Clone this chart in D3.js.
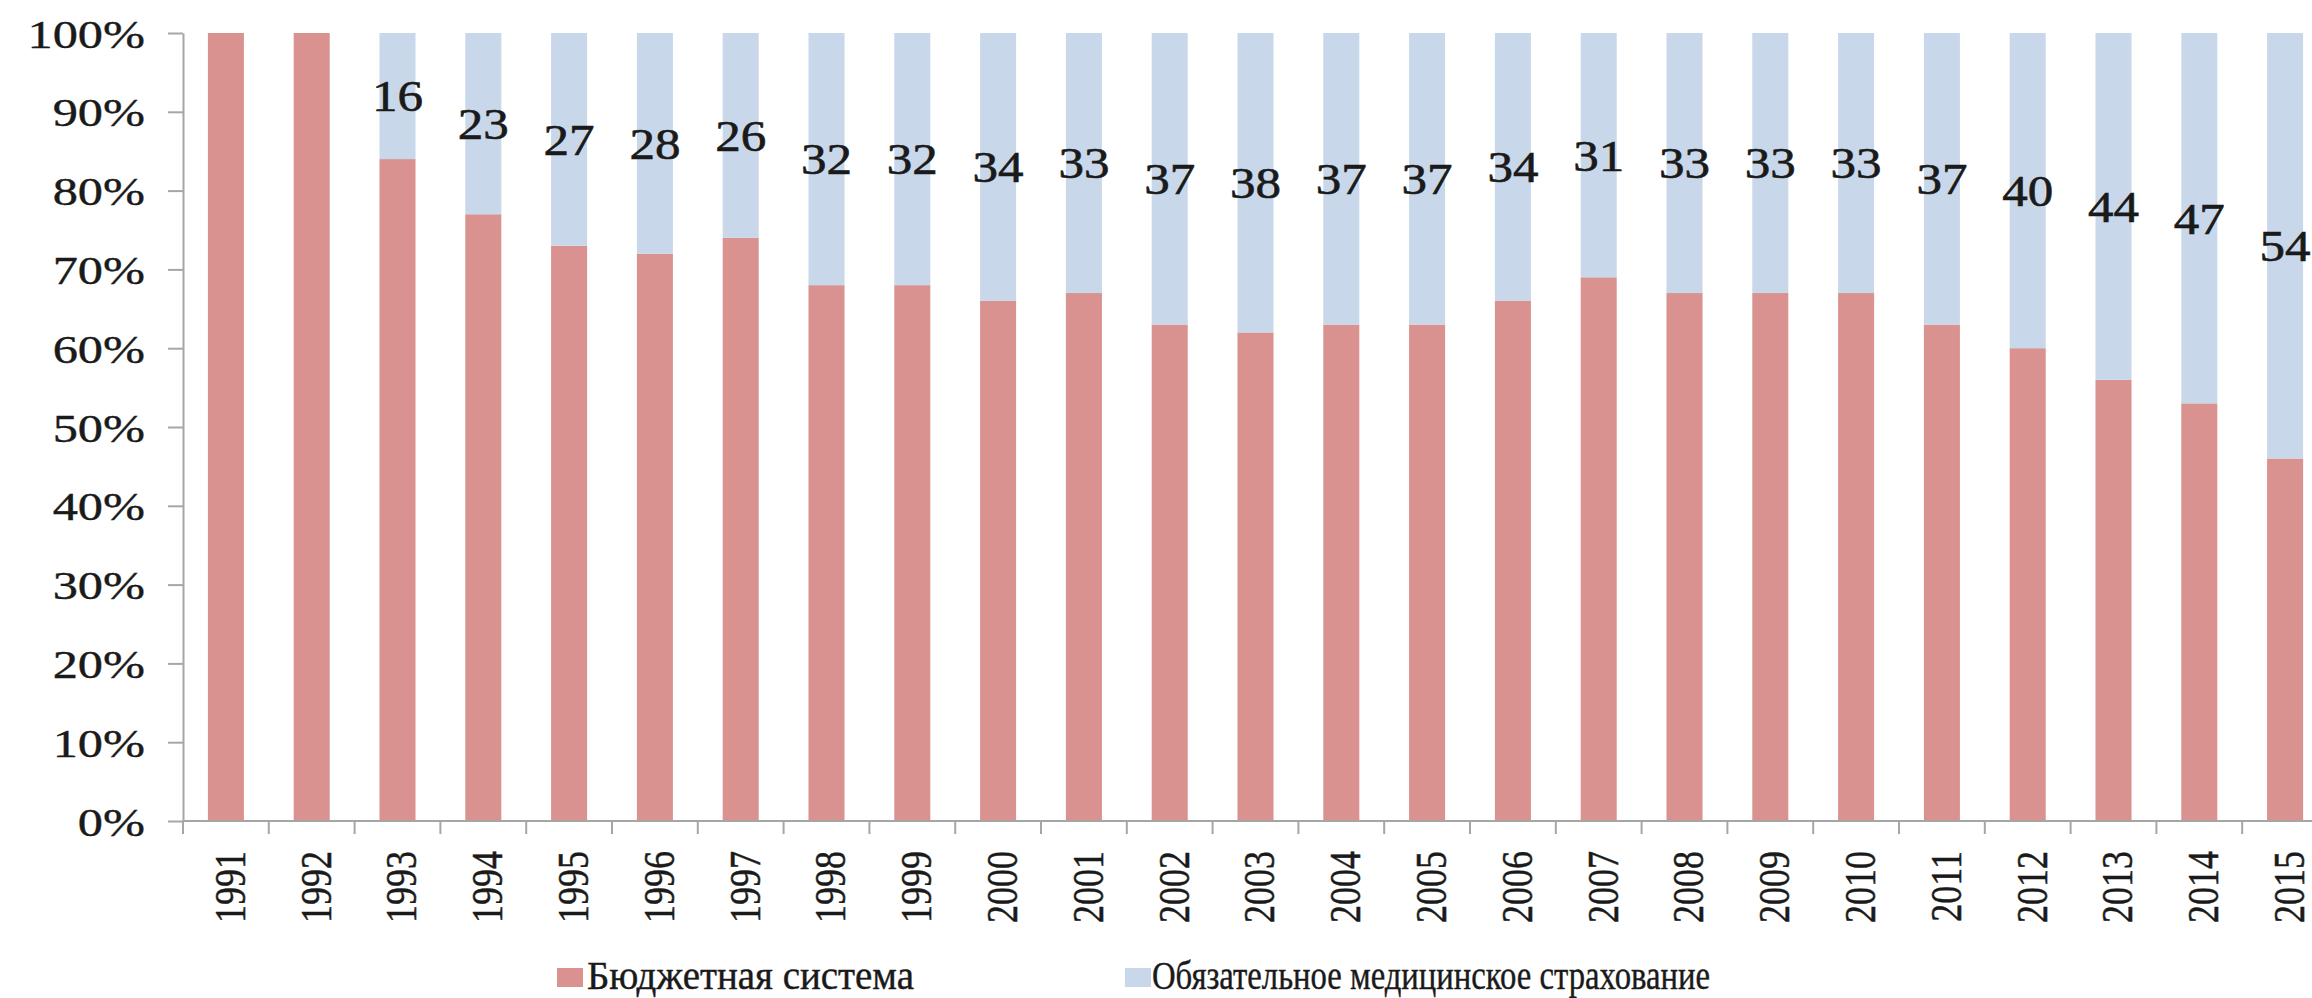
<!DOCTYPE html>
<html>
<head>
<meta charset="utf-8">
<script src="https://cdn.jsdelivr.net/npm/d3@7"></script>
<style>
  body { margin: 0; background: #fff; }
  svg { display: block; }
  text { font-family: "Liberation Serif", "DejaVu Serif", serif; fill: #1a1a1a; }
</style>
</head>
<body>
<div id="container"></div>
<script>
var width = 2312;
var height = 998;

// data (shares, %)
var years = ["1991","1992","1993","1994","1995","1996","1997","1998","1999","2000",
             "2001","2002","2003","2004","2005","2006","2007","2008","2009","2010",
             "2011","2012","2013","2014","2015"];
var budget = [100,100,84,77,73,72,74,68,68,66,67,63,62,63,63,66,69,67,67,67,63,60,56,53,46];
var oms    = [0,0,16,23,27,28,26,32,32,34,33,37,38,37,37,34,31,33,33,33,37,40,44,47,54];
var yTicks = [0,10,20,30,40,50,60,70,80,90,100];
var seriesNames = ["Бюджетная система", "Обязательное медицинское страхование"];
var seriesColors = ["#d9928f", "#c8d8ea"];

var margin = {left: 183, top: 33, bottom: 821, right: 2328};
var sx = 1.26; // the picture is stretched horizontally

var rows = years.map(function(y, i) {
    return {year: y, budget: budget[i], oms: oms[i]};
});

var stack = d3.stack().keys(["budget", "oms"]);
var series = stack(rows);

var x = d3.scaleBand()
    .domain(years)
    .range([margin.left, margin.right])
    .paddingInner(0.58)
    .paddingOuter(0.29);

var y = d3.scaleLinear()
    .domain([0, 100])
    .range([margin.bottom, margin.top]);

var svg = d3.create("svg")
    .attr("width", width)
    .attr("height", height);

// bars
svg.append("g")
    .selectAll("g")
    .data(series)
    .join("g")
    .attr("fill", function(d, i) { return seriesColors[i]; })
    .selectAll("rect")
    .data(function(d) { return d; })
    .join("rect")
    .attr("x", function(d) { return x(d.data.year); })
    .attr("width", x.bandwidth())
    .attr("y", function(d) { return y(d[1]); })
    .attr("height", function(d) { return y(d[0]) - y(d[1]); });

// y axis
var yAxis = svg.append("g")
    .attr("transform", "translate(" + margin.left + ",0)")
    .call(d3.axisLeft(y).tickValues(yTicks).tickFormat(function(d) { return d + "%"; })
          .tickSize(15).tickSizeOuter(0));
yAxis.selectAll("path, line").attr("stroke", "#a6a6a6").attr("stroke-width", 2);
yAxis.selectAll("text")
    .attr("x", 0)
    .attr("dy", "0.35em")
    .attr("transform", "translate(-38,0) scale(" + sx + ",1)")
    .style("font-size", "40px")
    .style("fill", "#1a1a1a")
    .style("stroke", "#1a1a1a")
    .style("stroke-width", 0.4);

// x axis
var xAxis = svg.append("g")
    .attr("transform", "translate(0," + margin.bottom + ")");
xAxis.append("line")
    .attr("x1", margin.left).attr("x2", margin.right)
    .attr("stroke", "#a6a6a6").attr("stroke-width", 2);
var step = x.step();
var x0 = margin.left;
xAxis.selectAll(".tick")
    .data(d3.range(years.length + 1))
    .join("line")
    .attr("class", "tick")
    .attr("x1", function(i) { return x0 + i * step; })
    .attr("x2", function(i) { return x0 + i * step; })
    .attr("y1", 0).attr("y2", 13)
    .attr("stroke", "#a6a6a6").attr("stroke-width", 2);
xAxis.selectAll(".lab")
    .data(years)
    .join("text")
    .attr("class", "lab")
    .attr("transform", function(d) {
        return "translate(" + (x(d) + x.bandwidth() / 2 + 3) + ",30) scale(" + sx + ",1) rotate(-90)";
    })
    .attr("text-anchor", "end")
    .attr("dy", "0.35em")
    .style("font-size", "36px")
    .style("stroke", "#1a1a1a")
    .style("stroke-width", 0.4)
    .text(function(d) { return d; });

// labels on the blue part
svg.append("g")
    .selectAll("text")
    .data(rows.filter(function(d) { return d.oms > 0; }))
    .join("text")
    .attr("transform", function(d) {
        var cy = y(d.budget + d.oms / 2);
        return "translate(" + (x(d.year) + x.bandwidth() / 2) + "," + cy + ") scale(1.16,1)";
    })
    .attr("text-anchor", "middle")
    .attr("dy", "0.35em")
    .style("font-size", "44px")
    .style("stroke", "#1a1a1a")
    .style("stroke-width", 0.6)
    .text(function(d) { return d.oms; });

// legend
var legendPos = [[557, 587, 327], [1125, 1152, 558]];
var legend = svg.append("g");
seriesNames.forEach(function(name, i) {
    legend.append("rect")
        .attr("x", legendPos[i][0]).attr("y", 968)
        .attr("width", 26).attr("height", 19)
        .attr("fill", seriesColors[i]);
    legend.append("text")
        .attr("x", legendPos[i][1]).attr("y", 989)
        .attr("textLength", legendPos[i][2])
        .attr("lengthAdjust", "spacingAndGlyphs")
        .style("font-size", "40px")
        .style("stroke", "#1a1a1a")
        .style("stroke-width", 0.4)
        .text(name);
});

document.getElementById("container").append(svg.node());
</script>
</body>
</html>
